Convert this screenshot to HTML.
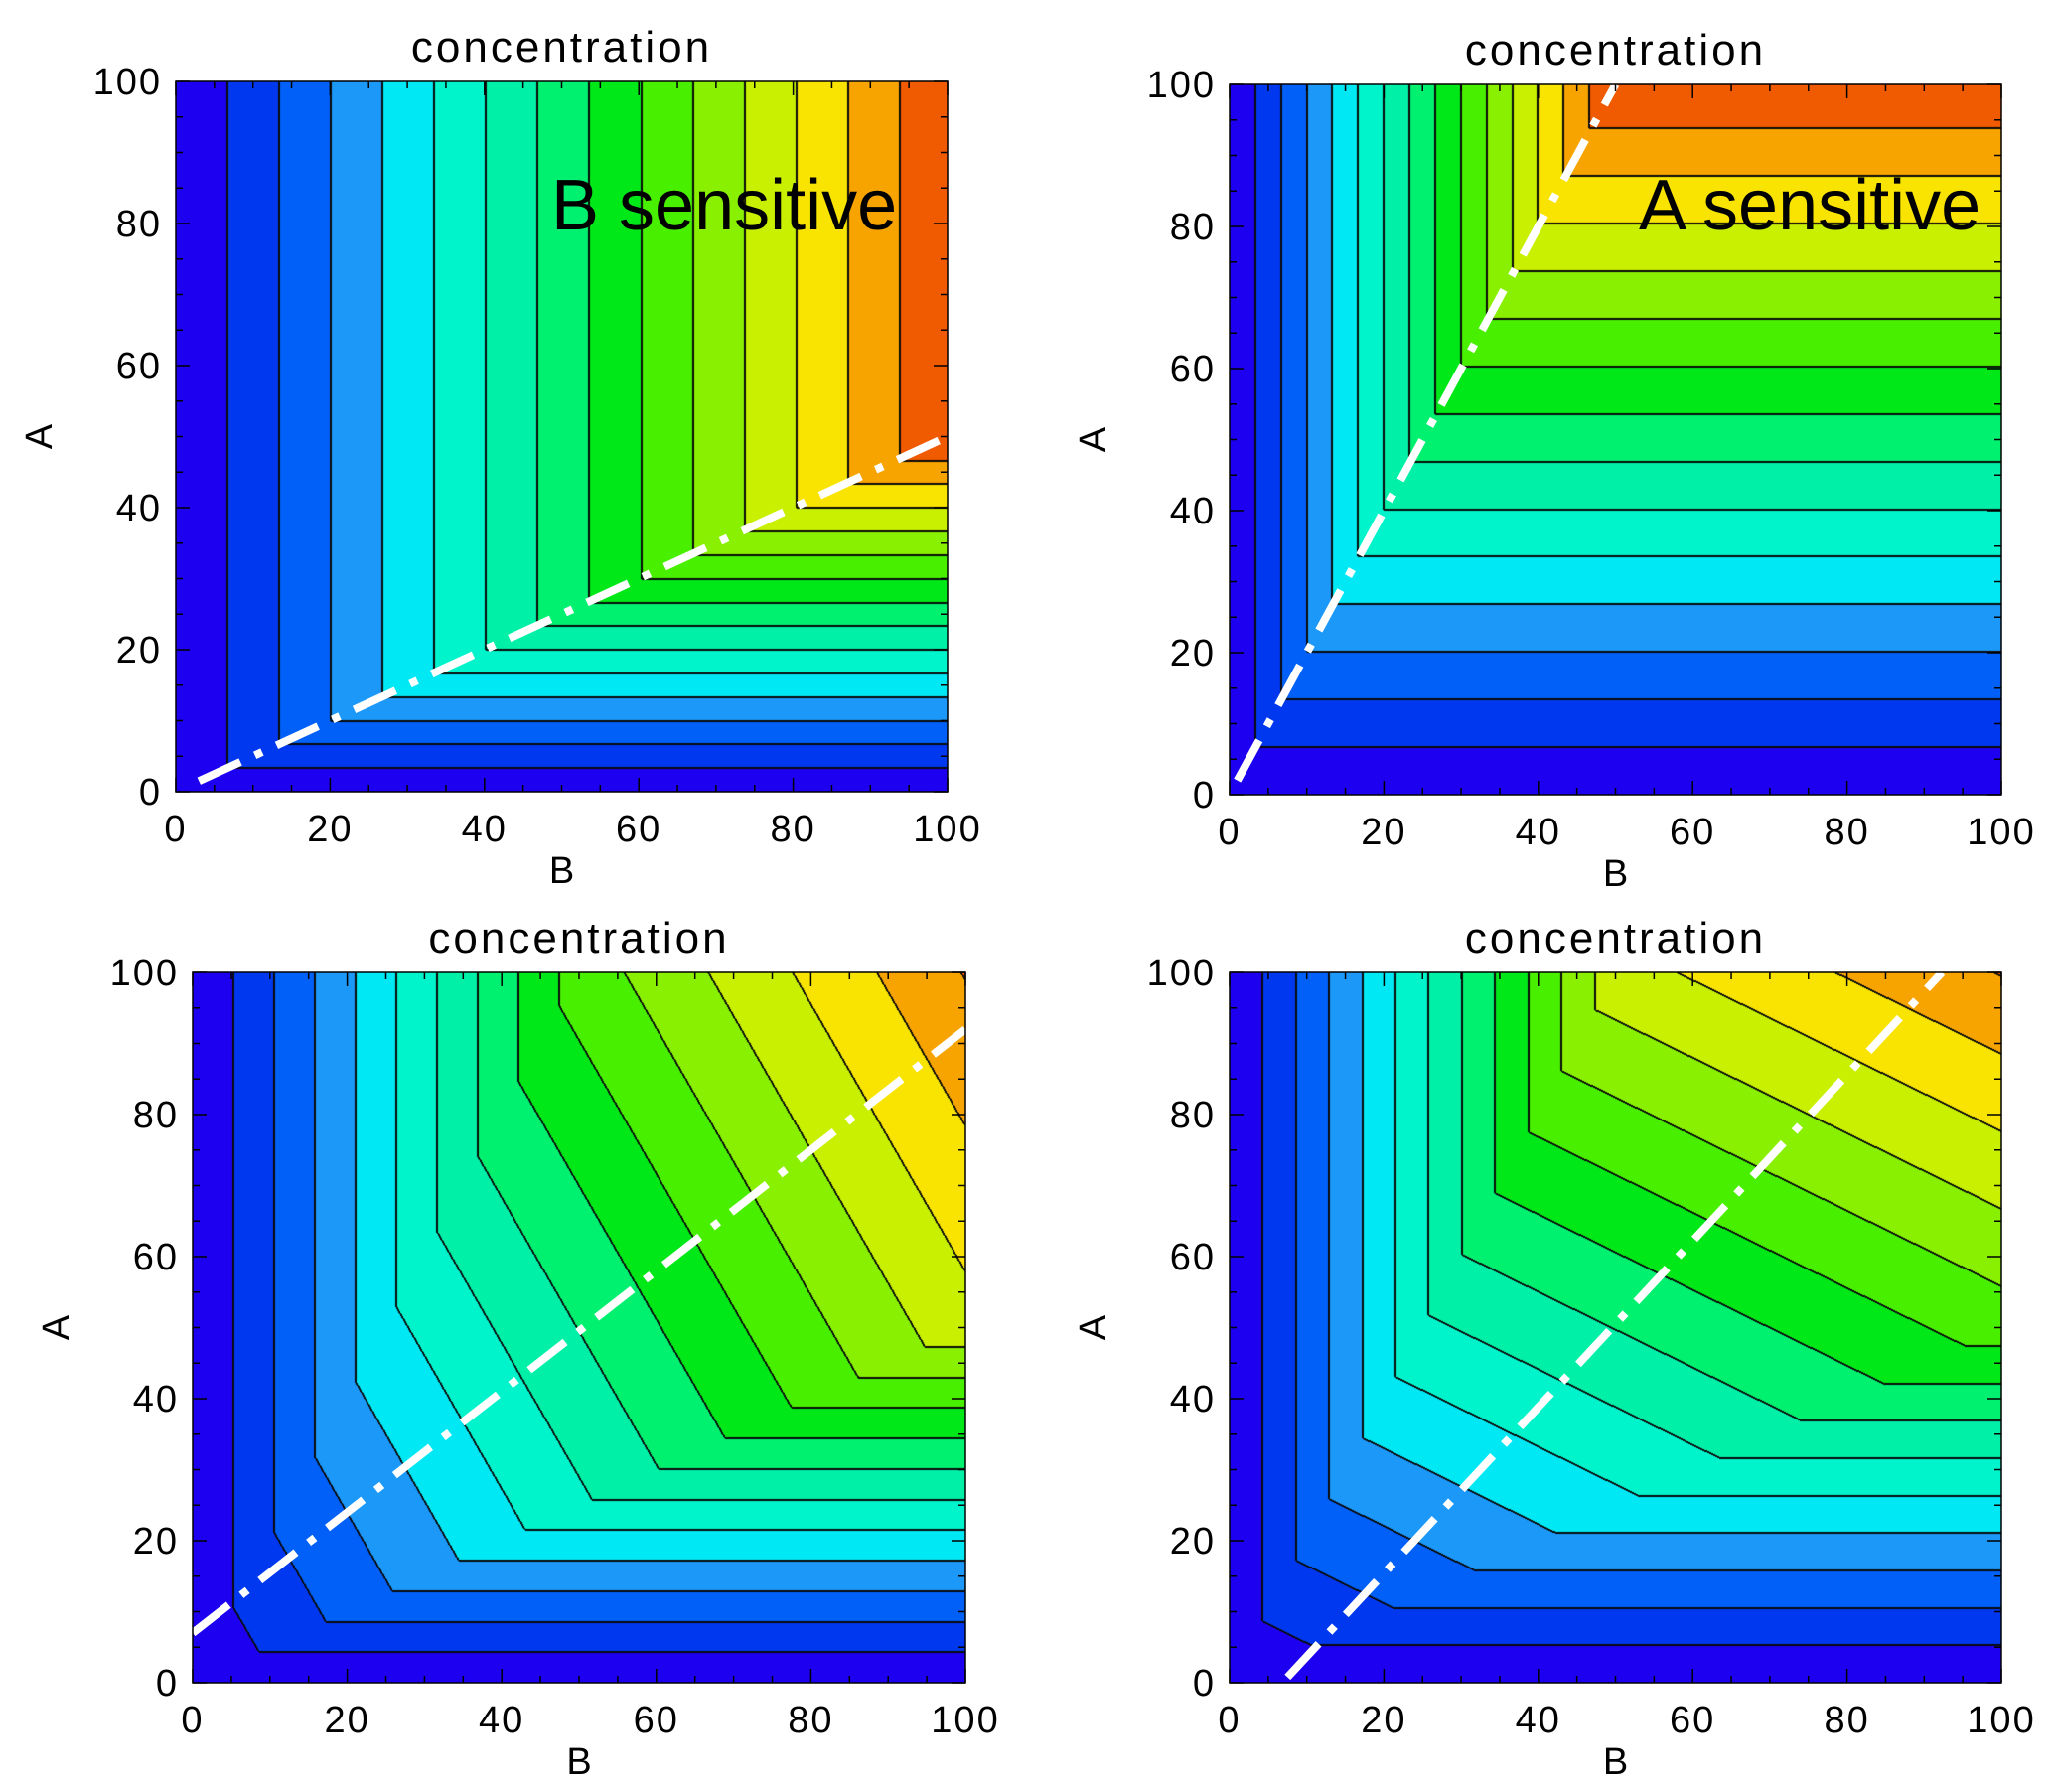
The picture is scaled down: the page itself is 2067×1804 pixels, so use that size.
<!DOCTYPE html>
<html><head><meta charset="utf-8">
<style>
html,body{margin:0;padding:0;background:#fff;}
#wrap{position:relative;width:2067px;height:1804px;overflow:hidden;font-family:"Liberation Sans",sans-serif;}
canvas{position:absolute;}
svg{position:absolute;left:0;top:0;}
</style></head>
<body>
<div id="wrap">
<svg id="ov" width="2067" height="1804"></svg>
</div>
<script>
// ---- data ----
const levelColors = ['#1e00f0','#0038f0','#0060f8','#1c98f8','#00e8f4','#00f4cc','#00f0a8','#00f070','#00e818','#48f000','#88f000','#c8f000','#f8e400','#f8a400','#f05a00'];
const bStep = [6.7, 3.33, 5.27, 4.3];
const aStep = [3.33, 6.7, 4.3, 5.27];
const bDiag = [0, 0, 10.9, 20.5];
const aDiag = [0, 0, 20.5, 10.9];
const lineSlope = [0.5, 2.0, 0.85, 1.17];
const lineIntercept = [0, 0, 7, -8];
const lineStartB = [3, 1, 0, 7.5];
const tickLabels = [0, 20, 40, 60, 80, 100];
const annotations = ['B sensitive', 'A sensitive', '', ''];
// layout
const panels = [
  {x0:177, x1:954, y0:82, y1:797},
  {x0:1238, x1:2015, y0:85, y1:800},
  {x0:194, x1:972, y0:979, y1:1694},
  {x0:1238, x1:2015, y0:979, y1:1694}
];
const annotPos = [[555,231],[1650,231]];
const NS = 'http://www.w3.org/2000/svg';
const wrap = document.getElementById('wrap');
const ov = document.getElementById('ov');
function hex(c){return [parseInt(c.substr(1,2),16),parseInt(c.substr(3,2),16),parseInt(c.substr(5,2),16)];}
const rgb = levelColors.map(hex);
function mk(tag, attrs, parent){const e=document.createElementNS(NS,tag);for(const k in attrs)e.setAttribute(k,attrs[k]);(parent||ov).appendChild(e);return e;}

panels.forEach((P,pi)=>{
  const W=P.x1-P.x0, H=P.y1-P.y0;
  const sx=v=>P.x0+v/100*W, sy=v=>P.y1-v/100*H;
  function level(B,A){
    let f=Math.min(B/bStep[pi], A/aStep[pi]);
    if(bDiag[pi]>0) f=Math.min(f, B/bDiag[pi]+A/aDiag[pi]);
    return Math.max(0,Math.min(levelColors.length-1,Math.floor(f)));
  }
  const cv=document.createElement('canvas');
  cv.width=W; cv.height=H;
  cv.style.left=P.x0+'px'; cv.style.top=P.y0+'px';
  
  
  wrap.insertBefore(cv, ov);
  const ctx=cv.getContext('2d');
  const img=ctx.createImageData(W,H);
  const L=new Int16Array(W*H);
  for(let j=0;j<H;j++)for(let i=0;i<W;i++){
    L[j*W+i]=level((i+0.5)/W*100,(H-j-0.5)/H*100);
  }
  for(let j=0;j<H;j++)for(let i=0;i<W;i++){
    const k=j*W+i, l=L[k];
    let edge=false;
    if(i+1<W && L[k+1]!==l) edge=true;
    if(i>0 && L[k-1]!==l) edge=true;
    if(j+1<H && L[k+W]!==l) edge=true;
    if(j>0 && L[k-W]!==l) edge=true;
    const c=edge?[10,10,10]:rgb[l];
    img.data[k*4]=c[0];img.data[k*4+1]=c[1];img.data[k*4+2]=c[2];img.data[k*4+3]=255;
  }
  ctx.putImageData(img,0,0);

  const g=mk('g',{});
  
  
  // dash-dot line
  const bStart=lineStartB[pi];
  let bEnd=100;
  if(lineIntercept[pi]+lineSlope[pi]*100>100) bEnd=(100-lineIntercept[pi])/lineSlope[pi];
  const aStart=Math.max(0,lineIntercept[pi]+lineSlope[pi]*bStart);
  const ln=mk('line',{x1:sx(bStart),y1:sy(aStart),x2:sx(bEnd),y2:sy(lineIntercept[pi]+lineSlope[pi]*bEnd),stroke:'#fff','stroke-width':8,'stroke-dasharray':'46 16 8 16'},g);
  
  
  // frame
  const fr=mk('rect',{x:P.x0,y:P.y0,width:W,height:H,fill:'none',stroke:'#000','stroke-width':1.5},g);
  
  
  // ticks
  for(let v=0;v<=100;v+=5){
    const len=(v%20===0)?14:7;
    mk('line',{x1:sx(v),y1:P.y1,x2:sx(v),y2:P.y1-len,stroke:'#000','stroke-width':1.5},g);
    mk('line',{x1:sx(v),y1:P.y0,x2:sx(v),y2:P.y0+len,stroke:'#000','stroke-width':1.5},g);
    mk('line',{x1:P.x0,y1:sy(v),x2:P.x0+len,y2:sy(v),stroke:'#000','stroke-width':1.5},g);
    mk('line',{x1:P.x1,y1:sy(v),x2:P.x1-len,y2:sy(v),stroke:'#000','stroke-width':1.5},g);
  }
  tickLabels.forEach(t=>{
    const xt=mk('text',{x:sx(t),y:P.y1+50,'text-anchor':'middle','font-size':38,'letter-spacing':2,fill:'#000'},g);
    xt.textContent=t;
    
    
    const yt=mk('text',{x:P.x0-14,y:sy(t)+13,'text-anchor':'end','font-size':38,'letter-spacing':2,fill:'#000'},g);
    yt.textContent=t;
    
    
  });
  const ti=mk('text',{x:(P.x0+P.x1)/2,y:P.y0-20,'text-anchor':'middle','font-size':44,'letter-spacing':3,fill:'#000'},g);
  ti.textContent='concentration';
  
  
  const xa=mk('text',{x:(P.x0+P.x1)/2,y:P.y1+92,'text-anchor':'middle','font-size':38,fill:'#000'},g);
  xa.textContent='B';
  
  
  const yx=P.x0-125, yy=(P.y0+P.y1)/2;
  const ya=mk('text',{x:yx,y:yy,'text-anchor':'middle','font-size':38,fill:'#000',transform:'rotate(-90 '+yx+' '+yy+')'},g);
  ya.textContent='A';
  
  
  if(annotations[pi]){
    const an=mk('text',{x:annotPos[pi][0],y:annotPos[pi][1],'font-size':72,fill:'#000'},g);
    an.textContent=annotations[pi];
    
    
  }
});
</script>
</body></html>
